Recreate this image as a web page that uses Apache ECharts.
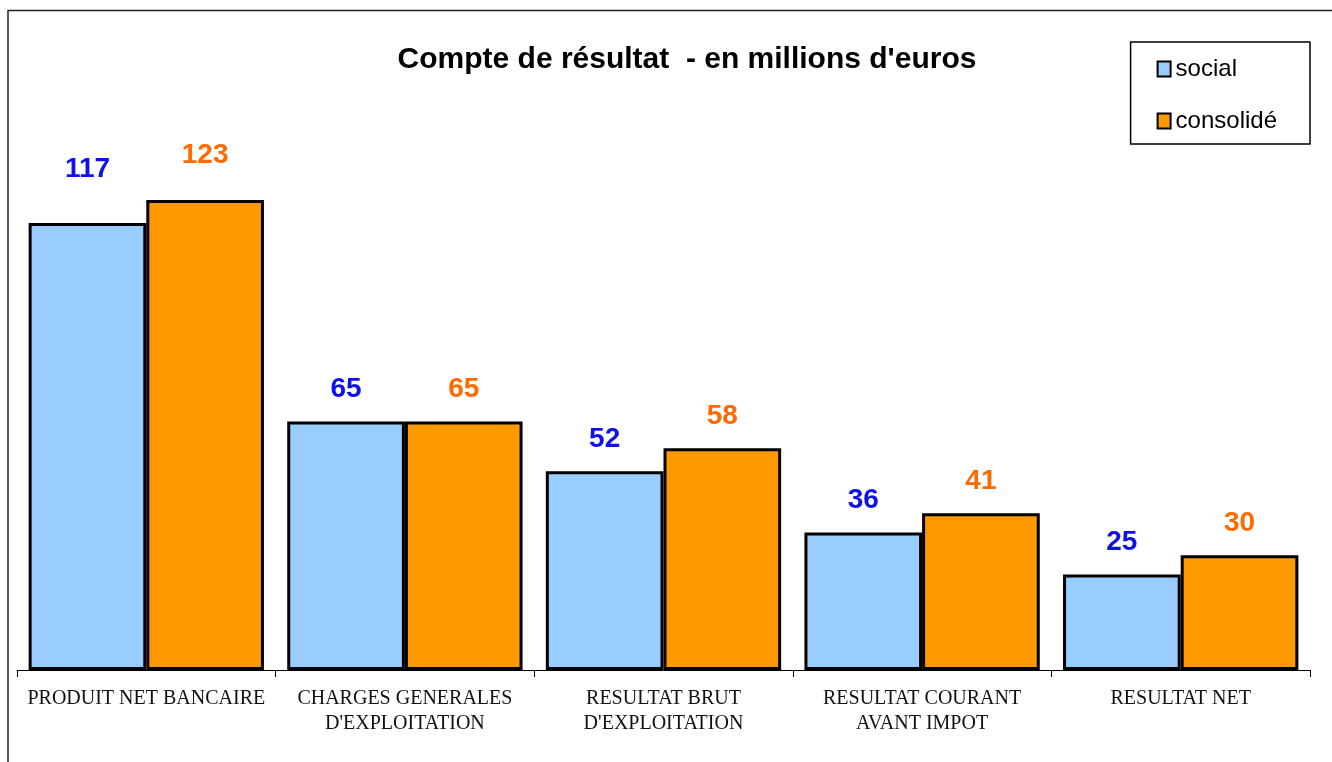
<!DOCTYPE html>
<html>
<head>
<meta charset="utf-8">
<script src="https://cdn.jsdelivr.net/npm/echarts@6/dist/echarts.min.js"></script>
<style>
  html, body { margin: 0; padding: 0; background: #fff; }
  #chart { width: 1332px; height: 762px; }
</style>
</head>
<body>
<div id="chart"></div>
<script>
const categories = [
  'PRODUIT NET BANCAIRE',
  'CHARGES GENERALES\nD\'EXPLOITATION',
  'RESULTAT BRUT\nD\'EXPLOITATION',
  'RESULTAT COURANT\nAVANT IMPOT',
  'RESULTAT NET'
]
const social = [117, 65, 52, 36, 25]
const consolide = [123, 65, 58, 41, 30]

const sans = '"Liberation Sans", Arial, sans-serif'

// the first pair of labels sits higher above its bars in the original
const socialData = social.map((v, i) => (i === 0 ? { value: v, label: { distance: 40 } } : v))
const consolideData = consolide.map((v, i) => (i === 0 ? { value: v, label: { distance: 31 } } : v))

const chart = echarts.init(document.getElementById('chart'), null, { renderer: 'canvas' })

const valueLabel = color => ({
  show: true,
  position: 'top',
  distance: 18,
  fontFamily: sans,
  fontWeight: 'bold',
  fontSize: 28,
  color: color
})

const option = {
  animation: false,
  backgroundColor: '#fff',
  title: {
    text: 'Compte de résultat  - en millions d\'euros',
    left: 682,
    top: 40,
    textAlign: 'center',
    textStyle: {
      fontFamily: sans,
      fontWeight: 'bold',
      fontSize: 30,
      color: '#000'
    }
  },
  legend: {
    orient: 'vertical',
    right: 22,
    top: 42,
    padding: [15, 33, 11, 26],
    itemGap: 28,
    itemWidth: 13,
    itemHeight: 15,
    borderColor: '#000',
    borderWidth: 1.5,
    borderRadius: 0,
    icon: 'rect',
    textStyle: {
      fontFamily: sans,
      fontSize: 24,
      color: '#000'
    },
    itemStyle: { borderColor: '#000', borderWidth: 2 },
    data: ['social', 'consolidé']
  },
  grid: {
    left: 17,
    right: 22,
    top: 135,
    bottom: 92
  },
  xAxis: {
    type: 'category',
    data: categories,
    axisLine: { lineStyle: { color: '#000', width: 1 } },
    axisTick: { show: true, length: 7, lineStyle: { color: '#000' } },
    axisLabel: {
      interval: 0,
      margin: 16,
      fontFamily: '"Liberation Serif", "Times New Roman", serif',
      fontSize: 20,
      lineHeight: 25,
      color: '#111'
    }
  },
  yAxis: {
    type: 'value',
    min: 0,
    max: 140,
    show: false
  },
  series: [
    {
      name: 'social',
      type: 'bar',
      data: socialData,
      barGap: '0%',
      barCategoryGap: '9%',
      itemStyle: { color: '#99CCFF', borderColor: '#000', borderWidth: 3 },
      label: valueLabel('#1010EE')
    },
    {
      name: 'consolidé',
      type: 'bar',
      data: consolideData,
      barGap: '0%',
      barCategoryGap: '9%',
      itemStyle: { color: '#FF9900', borderColor: '#000', borderWidth: 3 },
      label: valueLabel('#FF6A00')
    }
  ],
  graphic: [
    {
      type: 'polyline',
      shape: { points: [[8, 762], [8, 10.5], [1332, 10.5]] },
      style: { stroke: '#222', lineWidth: 1.5, fill: null }
    }
  ]
}

chart.setOption(option)
</script>
</body>
</html>
